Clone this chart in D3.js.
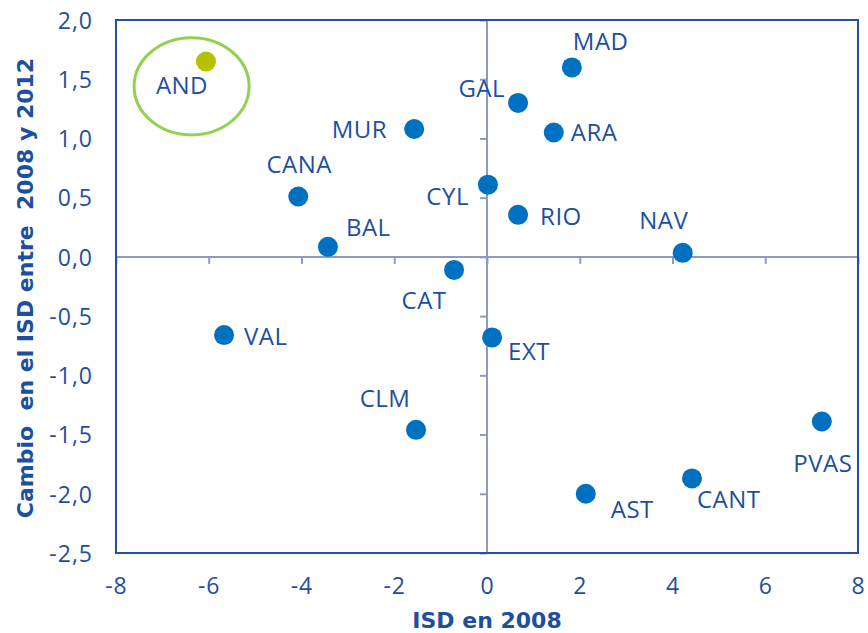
<!DOCTYPE html>
<html>
<head>
<meta charset="utf-8">
<script src="https://cdn.jsdelivr.net/npm/d3@7"></script>
<style>
  body { margin: 0; background: #fff; }
  svg { display: block; }
</style>
</head>
<body>
<svg id="chart"></svg>
<script>
var regions = ["AND", "MAD", "GAL", "ARA", "CYL", "RIO", "NAV", "MUR", "CANA", "BAL",
               "CAT", "VAL", "EXT", "CLM", "AST", "CANT", "PVAS"];
var isd2008 = [-6.06, 1.83, 0.67, 1.44, 0.02, 0.67, 4.22, -1.57, -4.07, -3.43,
               -0.71, -5.67, 0.11, -1.53, 2.13, 4.42, 7.22];
var cambio = [1.65, 1.60, 1.30, 1.05, 0.61, 0.355, 0.034, 1.08, 0.51, 0.085,
              -0.11, -0.66, -0.68, -1.46, -2.00, -1.87, -1.39];
var xTicks = [-8, -6, -4, -2, 0, 2, 4, 6, 8];
var yTicks = [2.0, 1.5, 1.0, 0.5, 0.0, -0.5, -1.0, -1.5, -2.0, -2.5];
var highlight = "AND";
// highlight ring around AND, in data units: cx, cy, rx, ry
var ring = [-6.37, 1.44, 1.24, 0.41];

// label offsets from the dot (px) and anchor
var labelPos = {
  AND:  [-24, 24, "middle"],
  MAD:  [1, -26, "start"],
  GAL:  [-13, -15, "end"],
  ARA:  [17, 0, "start"],
  CYL:  [-19, 12, "end"],
  RIO:  [22, 2, "start"],
  NAV:  [-19, -33, "middle"],
  MUR:  [-27, 0, "end"],
  CANA: [1, -32, "middle"],
  BAL:  [18, -19, "start"],
  CAT:  [-30, 30, "middle"],
  VAL:  [20, 1, "start"],
  EXT:  [16, 14, "start"],
  CLM:  [-31, -31, "middle"],
  AST:  [25, 16, "start"],
  CANT: [5, 21, "start"],
  PVAS: [1, 42, "middle"]
};

var W = 868, H = 633;
var textCol = "#1d4f9f";
var frameCol = "#2251a2";
var axisCol = "#8e9ac4";
var dotCol = "#0070c0";
var labelFont = "'Open Sans', sans-serif";
var titleFont = "'DejaVu Sans', sans-serif";

var locale = d3.formatLocale({decimal: ",", thousands: ".", grouping: [3], currency: ["", "€"], minus: "-"});
var fmt = locale.format(".1f");

var x = d3.scaleLinear().domain([-8, 8]).range([116, 858]);
var y = d3.scaleLinear().domain([-2.5, 2]).range([553, 20]);

var svg = d3.select("#chart").attr("width", W).attr("height", H);

// center axes through zero
svg.append("g")
  .attr("transform", "translate(0," + y(0) + ")")
  .call(d3.axisBottom(x).tickValues(xTicks).tickSize(7).tickFormat(""))
  .call(function(g) {
    g.select(".domain").remove();
    g.selectAll("line").attr("stroke", axisCol).attr("stroke-width", 2);
  });
svg.append("line")
  .attr("x1", x(-8)).attr("x2", x(8))
  .attr("y1", y(0)).attr("y2", y(0))
  .attr("stroke", axisCol).attr("stroke-width", 2);

svg.append("g")
  .attr("transform", "translate(" + x(0) + ",0)")
  .call(d3.axisLeft(y).tickValues(yTicks).tickSize(7).tickFormat(""))
  .call(function(g) {
    g.select(".domain").remove();
    g.selectAll("line").attr("stroke", axisCol).attr("stroke-width", 2);
  });
svg.append("line")
  .attr("x1", x(0)).attr("x2", x(0))
  .attr("y1", y(2)).attr("y2", y(-2.5))
  .attr("stroke", axisCol).attr("stroke-width", 2);

// frame
svg.append("rect")
  .attr("x", x(-8)).attr("y", y(2))
  .attr("width", x(8) - x(-8)).attr("height", y(-2.5) - y(2))
  .attr("fill", "none").attr("stroke", frameCol).attr("stroke-width", 2);

// tick labels
var yAx = svg.append("g")
  .attr("transform", "translate(" + x(-8) + ",0)")
  .call(d3.axisLeft(y).tickValues(yTicks).tickSize(0).tickPadding(23).tickFormat(fmt));
yAx.select(".domain").remove();
yAx.selectAll("text")
  .attr("fill", textCol).style("font-family", labelFont).style("font-size", "23px")
  .style("letter-spacing", "1px")
  .attr("dy", "0.36em");

var xAx = svg.append("g")
  .attr("transform", "translate(0," + y(-2.5) + ")")
  .call(d3.axisBottom(x).tickValues(xTicks).tickSize(0).tickPadding(22).tickFormat(locale.format("d")));
xAx.select(".domain").remove();
xAx.selectAll("text")
  .attr("fill", textCol).style("font-family", labelFont).style("font-size", "23px")
  .style("letter-spacing", "1px")
  .attr("dy", "0.36em").attr("y", 33);

// axis titles
svg.append("text")
  .attr("x", (x(-8) + x(8)) / 2).attr("y", 620)
  .attr("dy", "0.36em")
  .attr("text-anchor", "middle")
  .attr("fill", textCol)
  .style("font-family", titleFont).style("font-weight", "bold").style("font-size", "22px")
  .text("ISD en 2008");

svg.append("text")
  .attr("transform", "translate(25," + 288 + ") rotate(-90)")
  .attr("dy", "0.36em")
  .attr("text-anchor", "middle")
  .attr("fill", textCol)
  .style("font-family", titleFont).style("font-weight", "bold").style("font-size", "22px")
  .style("white-space", "pre")
  .text("Cambio  en el ISD entre  2008 y 2012");

// highlight ring
svg.append("ellipse")
  .attr("cx", x(ring[0])).attr("cy", y(ring[1]))
  .attr("rx", x(ring[2]) - x(0)).attr("ry", y(0) - y(ring[3]))
  .attr("fill", "none").attr("stroke", "#92d050").attr("stroke-width", 3);

var data = regions.map(function(r, i) {
  return {name: r, x: isd2008[i], y: cambio[i]};
});

svg.selectAll("circle.dot")
  .data(data)
  .enter().append("circle")
  .attr("class", "dot")
  .attr("cx", function(d) { return x(d.x); })
  .attr("cy", function(d) { return y(d.y); })
  .attr("r", 10)
  .attr("fill", function(d) { return d.name === highlight ? "#b5c000" : dotCol; });

svg.selectAll("text.lbl")
  .data(data)
  .enter().append("text")
  .attr("class", "lbl")
  .attr("x", function(d) { return x(d.x) + labelPos[d.name][0]; })
  .attr("y", function(d) { return y(d.y) + labelPos[d.name][1]; })
  .attr("dy", "0.36em")
  .attr("text-anchor", function(d) { return labelPos[d.name][2]; })
  .attr("fill", textCol)
  .style("font-family", labelFont).style("font-size", "24px")
  .style("letter-spacing", "0.5px")
  .text(function(d) { return d.name; });
</script>
</body>
</html>
